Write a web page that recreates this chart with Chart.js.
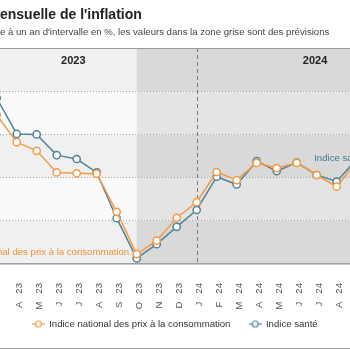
<!DOCTYPE html>
<html><head><meta charset="utf-8">
<script src="https://cdn.jsdelivr.net/npm/chart.js@4"></script>
<style>html,body{margin:0;padding:0;background:#fff;overflow:hidden}#wrap{width:350px;height:350px;position:relative}</style>
</head><body><div id="wrap"><canvas id="c" width="350" height="350"></canvas></div>
<script>
// ---- data ----
const months = ['M 23','A 23','M 23','J 23','J 23','A 23','S 23','O 23','N 23','D 23','J 24','F 24','M 24','A 24','M 24','J 24','J 24','A 24','S 24'];
const ipcValues   = [3.45,2.82,2.62,2.12,2.10,2.09,1.21,0.23,0.54,1.07,1.43,2.13,1.94,2.34,2.22,2.34,2.06,1.79,2.38];
const santeValues = [3.84,3.01,3.00,2.52,2.43,2.12,1.06,0.13,0.46,0.86,1.25,2.02,1.84,2.38,2.15,2.35,2.06,1.91,2.43];
const seriesNames = ['Indice national des prix à la consommation','Indice santé'];
const yearLabels = ['2023','2024'];
const titleText = "ensuelle de l'inflation";
const subtitleText = "e à un an d'intervalle en %, les valeurs dans la zone grise sont des prévisions";

const FONT = "'Liberation Sans', Arial, Helvetica, sans-serif";
const ORANGE = '#f39a45', BLUE = '#4f8399';
const forecastStart = 7;   // O 23
const yearBoundary = 10;   // J 24
const yearCenters = [3.83, 15.92];

function legendIcon(color){
  const c = document.createElement('canvas'); c.width = 13; c.height = 9;
  const g = c.getContext('2d');
  g.strokeStyle = color; g.lineWidth = 1.2;
  g.beginPath(); g.moveTo(0,4.5); g.lineTo(13,4.5); g.stroke();
  g.beginPath(); g.arc(6.5,4.5,3,0,Math.PI*2); g.fillStyle='#fff'; g.fill(); g.stroke();
  return c;
}

const bgPlugin = {
  id:'bg',
  beforeDraw(chart){
    const {ctx, chartArea:a, scales:{x,y}} = chart;
    ctx.save();
    ctx.fillStyle = '#fff'; ctx.fillRect(0,0,chart.width,chart.height);
    const xs = x.getPixelForValue(forecastStart);
    for (let v=0; v<5; v++){
      const top = y.getPixelForValue(v+1), bot = y.getPixelForValue(v);
      const dark = (v%2===0);
      ctx.fillStyle = dark ? '#f0f0f0' : '#fafafa';
      ctx.fillRect(a.left, top, xs-a.left, bot-top);
      ctx.fillStyle = dark ? '#d9d9d9' : '#e4e4e4';
      ctx.fillRect(xs, top, a.right-xs, bot-top);
    }
    ctx.restore();
  },
  beforeDatasetsDraw(chart){
    const {ctx, chartArea:a, scales:{x,y}} = chart;
    ctx.save();
    const xb = Math.round(x.getPixelForValue(yearBoundary))+0.5;
    ctx.strokeStyle = '#7a7a7a'; ctx.lineWidth = 1; ctx.setLineDash([4,3]);
    ctx.beginPath(); ctx.moveTo(xb, a.top); ctx.lineTo(xb, a.bottom); ctx.stroke();
    ctx.setLineDash([]);
    ctx.strokeStyle = '#9a9a9a';
    ctx.beginPath(); ctx.moveTo(0, Math.round(a.top)+0.5); ctx.lineTo(chart.width, Math.round(a.top)+0.5); ctx.stroke();
    ctx.strokeStyle = '#a8a8a8';
    ctx.beginPath(); ctx.moveTo(0, 348.5); ctx.lineTo(chart.width, 348.5); ctx.stroke();
    ctx.fillStyle = '#222'; ctx.font = 'bold 11px '+FONT; ctx.textAlign='center'; ctx.textBaseline='middle';
    yearLabels.forEach((t,i)=> ctx.fillText(t, x.getPixelForValue(yearCenters[i]), a.top + 13));
    ctx.restore();
  },
  afterDatasetsDraw(chart){
    const {ctx} = chart;
    ctx.save();
    ctx.font = '9.6px '+FONT; ctx.textBaseline='middle';
    const p0 = chart.getDatasetMeta(0).data[7];
    ctx.fillStyle = '#f0913d'; ctx.textAlign='right';
    ctx.fillText(seriesNames[0], p0.x - 7.5, p0.y - 1.5);
    const p1 = chart.getDatasetMeta(1).data[16];
    ctx.fillStyle = '#43778f'; ctx.textAlign='left';
    ctx.fillText(seriesNames[1], p1.x - 2.5, p1.y - 17);
    ctx.restore();
  }
};

const mk = (vals)=> vals.map((v,i)=>({x:i,y:v}));

new Chart(document.getElementById('c'), {
  type:'line',
  data:{ datasets:[
    {label:seriesNames[0], data:mk(ipcValues), borderColor:ORANGE, backgroundColor:'#fff',
     borderWidth:1.5, pointRadius:3.6, pointBorderWidth:1.5, pointBackgroundColor:'#fff', pointBorderColor:ORANGE, tension:0},
    {label:seriesNames[1], data:mk(santeValues), borderColor:BLUE, backgroundColor:'#fff',
     borderWidth:1.5, pointRadius:3.6, pointBorderWidth:1.5, pointBackgroundColor:'#fff', pointBorderColor:BLUE, tension:0}
  ]},
  options:{
    responsive:false, animation:false, devicePixelRatio:1,
    layout:{ padding:{left:0,right:0,top:0,bottom:11.2}, autoPadding:false },
    scales:{
      x:{ type:'linear', min:0.165, max:17.665,
          grid:{display:false},
          border:{display:true, color:'#a0a0a0', width:1.5},
          ticks:{ stepSize:1, includeBounds:false, autoSkip:false, minRotation:90, maxRotation:90, padding:11, labelOffset:2.5,
                  color:'#555', font:{family:FONT, size:9.6},
                  callback:(v)=> Number.isInteger(v) && months[v] ? months[v].replace(' ', '   ') : '' },
          afterFit:(s)=>{ s.height = 47.2; s.paddingLeft = 0; s.paddingRight = 0; s.paddingTop = 0; s.paddingBottom = 0; } },
      y:{ min:0, max:5, ticks:{display:false, stepSize:1},
          grid:{ drawTicks:false, lineWidth:1,
                 color:(c)=> (c.tick && (c.tick.value===0 || c.tick.value===5)) ? 'rgba(0,0,0,0)' : '#a5a5a5' },
          border:{display:false, dash:[1,2]},
          afterFit:(s)=>{ s.width = 0; s.paddingTop = 0; s.paddingBottom = 0; } }
    },
    plugins:{
      title:{ display:true, text:titleText, align:'start', color:'#222',
              font:{family:FONT, size:14, weight:'bold'}, padding:{top:6.6,bottom:0} },
      subtitle:{ display:true, text:subtitleText, align:'start', color:'#444',
              font:{family:FONT, size:9.6}, padding:{top:2.84,bottom:10.24} },
      legend:{ position:'bottom', align:'center', maxHeight:27.6,
        labels:{ usePointStyle:true, pointStyleWidth:12, padding:8, color:'#333', font:{family:FONT, size:9.6},
          generateLabels:(chart)=> chart.data.datasets.map((d,i)=>({
            text: i===0 ? d.label + '\u00a0\u00a0\u00a0\u00a0' : d.label,
            pointStyle: legendIcon(d.borderColor), fillStyle:'#fff', strokeStyle:d.borderColor,
            lineWidth:0, datasetIndex:i, hidden:false, fontColor:'#333' })) } },
      tooltip:{enabled:false}
    }
  },
  plugins:[bgPlugin]
});
</script></body></html>
